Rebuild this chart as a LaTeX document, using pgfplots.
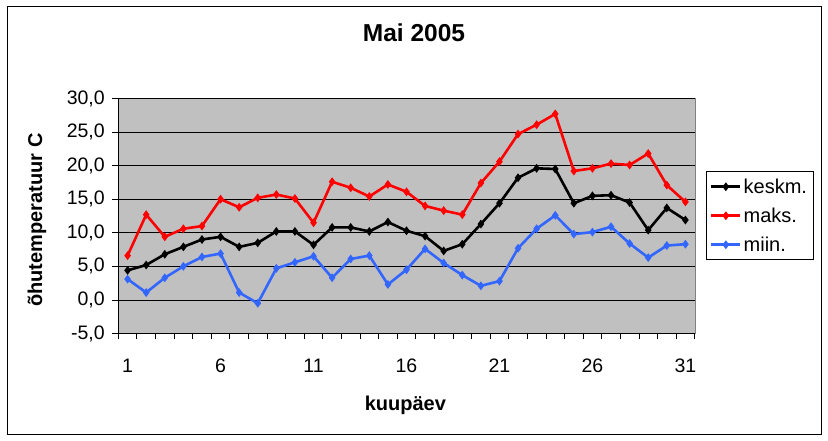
\documentclass[border=0pt]{standalone}
\usepackage{pgfplots}
\pgfplotsset{compat=1.18}
\usepackage{pgfplotstable}
\usepackage{fontspec}
\setmainfont{Liberation Sans}
\definecolor{plotgray}{RGB}{192,192,192}
\definecolor{framegray}{RGB}{128,128,128}
\definecolor{miinblue}{RGB}{51,102,255}
\pgfplotstableread{
day keskm maks miin
1 4.4 6.6 3.1
2 5.2 12.7 1.1
3 6.8 9.4 3.3
4 7.9 10.6 5.0
5 9.0 11.0 6.4
6 9.4 15.0 6.9
7 7.9 13.8 1.1
8 8.5 15.2 -0.5
9 10.2 15.7 4.7
10 10.2 15.1 5.6
11 8.2 11.5 6.5
12 10.8 17.6 3.3
13 10.8 16.7 6.1
14 10.2 15.4 6.6
15 11.6 17.2 2.3
16 10.3 16.1 4.5
17 9.5 14.0 7.6
18 7.3 13.3 5.5
19 8.3 12.7 3.7
20 11.3 17.4 2.1
21 14.4 20.6 2.8
22 18.2 24.7 7.7
23 19.6 26.1 10.6
24 19.5 27.7 12.6
25 14.4 19.2 9.8
26 15.5 19.6 10.1
27 15.6 20.3 10.9
28 14.5 20.1 8.4
29 10.4 21.8 6.3
30 13.7 17.1 8.1
31 11.9 14.6 8.3
}\datatable
\begin{document}
\begin{tikzpicture}
\path (0pt,0pt) rectangle (828pt,441pt);
\draw[black, line width=1pt] (7pt,6pt) rectangle (821pt,434pt);
\begin{axis}[
  at={(118.3pt,107.5pt)}, anchor=south west,
  scale only axis, width=576.4pt, height=235pt,
  xmin=0.5, xmax=31.5, ymin=-5, ymax=30,
  axis background/.style={fill=plotgray, draw=framegray},
  axis lines*=left, axis line style={-, black, line width=0.8pt},
  xtick={1,6,...,31},
  minor xtick={0.5,1.5,...,31.5},
  major x tick style={draw=none},
  minor x tick style={black, line width=0.8pt},
  minor tick length=6pt,
  ytick={-5,0,...,30},
  major y tick style={black, line width=0.8pt},
  major tick length=6pt,
  tick align=outside,
  ymajorgrids, grid style={black, line width=0.8pt},
  /pgf/number format/assume math mode=true,
  yticklabel style={/pgf/number format/fixed, /pgf/number format/fixed zerofill, /pgf/number format/precision=1, /pgf/number format/use comma},
  tick label style={font=\fontsize{19.5}{22}\selectfont},
  every x tick label/.append style={yshift=-16pt},
  every y tick label/.append style={xshift=-4pt},
  title={\fontsize{24.5}{28}\selectfont\bfseries Mai 2005},
  title style={at={(axis description cs:0.513,1.254)}, anchor=center},
  xlabel={\fontsize{20}{24}\selectfont\bfseries kuupäev},
  xlabel style={at={(axis description cs:0.498,-0.304)}, anchor=center},
  ylabel={\fontsize{20}{24}\selectfont\bfseries õhutemperatuur C},
  ylabel style={at={(axis description cs:-0.141,0.483)}, anchor=center, rotate=0},
  legend style={at={(1.019,0.501)}, anchor=west, draw=black, line width=0.8pt, fill=white,
    font=\fontsize{20}{24}\selectfont, row sep=9pt, inner xsep=4pt, inner ysep=5pt},
  legend cell align=left,
  legend image code/.code={\draw[mark repeat=2,mark phase=2,#1] plot coordinates {(0pt,0pt)(14.5pt,0pt)(29pt,0pt)};},
  every axis plot/.append style={line width=2.6pt, mark=diamond*, mark size=2.3pt, mark options={solid, line width=0.5pt}},
]
\addplot[black, mark options={fill=black}] table[x=day, y=keskm] {\datatable};
\addlegendentry{keskm.}
\addplot[red, mark options={fill=red}] table[x=day, y=maks] {\datatable};
\addlegendentry{maks.}
\addplot[miinblue, mark options={fill=miinblue}] table[x=day, y=miin] {\datatable};
\addlegendentry{miin.}
\end{axis}
\end{tikzpicture}
\end{document}
